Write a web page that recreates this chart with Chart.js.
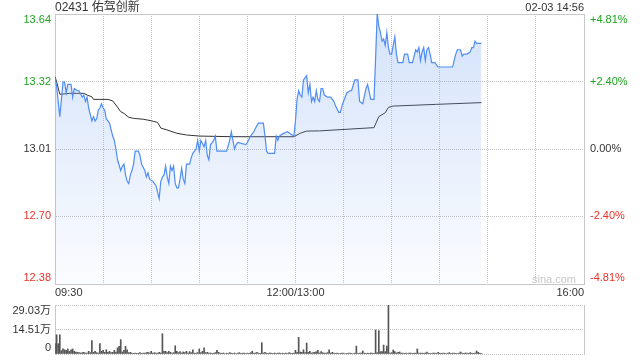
<!DOCTYPE html>
<html>
<head>
<meta charset="utf-8">
<script src="https://cdn.jsdelivr.net/npm/chart.js@4"></script>
<style>
  body { margin: 0; background: #fff; overflow: hidden; }
  #wrap { position: relative; width: 640px; height: 360px; font-family: "Liberation Sans", Arial, "Noto Sans CJK SC", sans-serif; color: #333; }
  canvas { position: absolute; left: 0; }
  #priceChart { top: 0; }
  #volChart { top: 300px; }
  .txt { position: absolute; white-space: nowrap; }
  #title { left: 55px; top: 0; font-size: 12px; line-height: 14px; }
  #stamp { right: 56px; top: 0; font-size: 11px; line-height: 14px; }
  #mark { left: 532px; top: 272px; font-size: 11px; line-height: 14px; color: #c8c8c8; }
</style>
</head>
<body>
<div id="wrap">
  <canvas id="priceChart" width="640" height="300"></canvas>
  <canvas id="volChart" width="640" height="60"></canvas>
  <div class="txt" id="title">02431 佑驾创新</div>
  <div class="txt" id="stamp">02-03 14:56</div>
  <div class="txt" id="mark">sina.com</div>
</div>
<script>
const FONT = '"Liberation Sans", Arial, "Noto Sans CJK SC", sans-serif';
const UP = '#1fa31f';
const DOWN = '#e9332a';
const GRID = '#c4c4c4';
const FRAME = '#c8c8c8';

const prevClose = 13.01;
const pctSteps = [4.81, 2.40, 0, -2.40, -4.81];
const priceLabels = ['13.64', '13.32', '13.01', '12.70', '12.38'];
const pctLabels = ['+4.81%', '+2.40%', '0.00%', '-2.40%', '-4.81%'];

// minutes since 09:30 (lunch break removed, 12:00/13:00 = 150, 16:00 = 330)
const sessionMinutes = 330;
const gridMinutes = [0, 30, 60, 90, 120, 150, 180, 210, 240, 270, 300, 330];
const timeLabels = ['09:30', '12:00/13:00', '16:00'];
const timeLabelMinutes = [0, 150, 330];

const lineMinutes = [
  0, 1, 3, 5, 6, 7, 8, 10, 11, 12,
  14, 15, 17, 18, 19, 20, 21, 23, 24, 25,
  26, 27, 28, 29, 30, 31, 32, 34, 35, 36,
  37, 38, 39, 41, 42, 43, 44, 45, 46, 47,
  48, 49, 50, 52, 53, 54, 56, 57, 58, 59,
  61, 63, 64, 65, 66, 67, 68, 69, 70, 71,
  72, 73, 74, 75, 76, 77, 78, 79, 80, 81,
  82, 84, 85, 86, 87, 88, 89, 90, 91, 93,
  94, 95, 96, 97, 98, 99, 100, 101, 107, 109,
  110, 111, 112, 113, 114, 119, 120, 122, 124, 126,
  127, 130, 131, 132, 133, 137, 138, 139, 140, 142,
  145, 147, 149, 150, 151, 152, 153, 154, 155, 156,
  157, 158, 159, 160, 161, 162, 163, 164, 165, 166,
  167, 168, 170, 172, 174, 175, 177, 178, 179, 180,
  181, 182, 184, 185, 187, 189, 190, 192, 194, 195,
  197, 199, 200, 201, 202, 203, 204, 205, 206, 207,
  208, 209, 210, 211, 212, 213, 214, 215, 217, 218,
  220, 221, 223, 225, 226, 227, 228, 229, 230, 231,
  232, 233, 234, 235, 237, 238, 239, 241, 248, 250,
  251, 253, 254, 255, 257, 259, 260, 261, 262, 263,
  266
];
const linePrices = [
  13.34, 13.30, 13.16, 13.32, 13.32, 13.27, 13.31, 13.31, 13.25, 13.29,
  13.28, 13.28, 13.25, 13.26, 13.23, 13.25, 13.20, 13.14, 13.16, 13.14,
  13.15, 13.19, 13.20, 13.22, 13.20, 13.19, 13.15, 13.13, 13.10, 13.07,
  13.05, 13.01, 12.96, 12.91, 12.93, 12.94, 12.89, 12.86, 12.85, 12.89,
  12.91, 12.94, 13.00, 13.00, 12.98, 12.94, 12.91, 12.88, 12.90, 12.87,
  12.86, 12.84, 12.81, 12.78, 12.86, 12.88, 12.89, 12.93, 12.88, 12.85,
  12.93, 12.91, 12.93, 12.85, 12.83, 12.83, 12.87, 12.92, 12.87, 12.85,
  12.94, 12.94, 12.97, 12.99, 13.00, 13.01, 13.05, 13.00, 13.05, 13.02,
  13.05, 12.98, 12.96, 13.03, 13.04, 13.05, 13.07, 13.00, 13.00, 13.05,
  13.09, 13.05, 13.01, 13.03, 13.04, 13.03, 13.04, 13.07, 13.09, 13.12,
  13.13, 13.13, 13.07, 13.00, 12.99, 12.99, 13.07, 13.05, 13.07, 13.08,
  13.09, 13.08, 13.07, 13.14, 13.24, 13.28, 13.26, 13.25, 13.33, 13.34,
  13.35, 13.27, 13.31, 13.23, 13.25, 13.23, 13.28, 13.24, 13.23, 13.29,
  13.29, 13.26, 13.25, 13.25, 13.23, 13.21, 13.18, 13.18, 13.21, 13.23,
  13.25, 13.27, 13.28, 13.28, 13.33, 13.33, 13.23, 13.22, 13.29, 13.31,
  13.24, 13.24, 13.43, 13.64, 13.58, 13.55, 13.51, 13.52, 13.49, 13.55,
  13.48, 13.45, 13.45, 13.49, 13.53, 13.45, 13.41, 13.41, 13.41, 13.45,
  13.45, 13.41, 13.41, 13.47, 13.46, 13.48, 13.42, 13.46, 13.48, 13.42,
  13.47, 13.48, 13.45, 13.41, 13.41, 13.40, 13.39, 13.39, 13.39, 13.45,
  13.47, 13.47, 13.44, 13.45, 13.45, 13.46, 13.48, 13.48, 13.51, 13.50,
  13.50
];

const avgMinutes = [0, 1, 3, 4, 9, 18, 20, 23, 24, 28, 33, 36, 38, 41, 43, 46, 49, 55, 60, 64,
  66, 70, 76, 82, 90, 111, 149, 153, 157, 165, 199, 202, 206, 208, 211, 238, 266];
const avgPrices = [13.345, 13.322, 13.264, 13.264, 13.268, 13.268, 13.260, 13.252, 13.240, 13.240,
  13.240, 13.233, 13.214, 13.183, 13.175, 13.157, 13.152, 13.148, 13.141, 13.133,
  13.107, 13.098, 13.083, 13.075, 13.070, 13.067, 13.067, 13.083, 13.093, 13.094,
  13.109, 13.160, 13.178, 13.203, 13.209, 13.217, 13.225];

// volume per minute, in 万 shares
const volumes = [
  6.1, 11.4, 6.1, 11.4, 2.0, 3.0, 2.5, 2.2, 3.0, 1.6,
  2.5, 3.0, 1.6, 1.2, 1.0, 0.8, 0.6, 0.8, 1.0, 0.6,
  0.6, 1.6, 0.8, 7.9, 1.0, 1.6, 0.8, 0.6, 6.1, 1.6,
  2.2, 1.0, 2.5, 1.0, 1.6, 0.8, 1.0, 2.2, 1.2, 3.6,
  4.5, 8.5, 1.2, 2.2, 4.5, 2.5, 0.8, 1.0, 0.5, 0.4,
  0.6, 0.4, 0.5, 0.8, 0.4, 0.6, 0.5, 0.8, 1.0, 0.6,
  1.6, 0.5, 0.8, 0.6, 0.5, 1.0, 0.6, 12.0, 1.6, 1.6,
  0.8, 1.6, 1.0, 0.6, 0.8, 4.9, 1.6, 0.8, 1.4, 0.6,
  1.2, 0.8, 1.6, 0.6, 1.4, 0.8, 2.5, 0.5, 0.6, 0.8,
  3.0, 0.8, 1.6, 3.6, 0.8, 1.0, 0.5, 0.6, 0.4, 0.5,
  0.8, 2.2, 1.0, 0.5, 0.4, 0.6, 0.3, 0.5, 0.4, 0.8,
  0.5, 0.4, 0.6, 0.3, 0.5, 0.8, 0.4, 0.5, 0.6, 0.3,
  0.5, 0.4, 0.8, 1.6, 0.5, 0.6, 1.0, 0.5, 0.4, 6.7,
  0.6, 1.0, 0.5, 0.4, 0.6, 0.5, 0.4, 0.6, 0.3, 0.5,
  0.6, 0.4, 0.5, 0.3, 0.6, 0.4, 0.8, 0.5, 0.4, 0.6,
  2.2, 1.0, 9.9, 1.2, 1.0, 2.5, 0.8, 6.5, 1.0, 1.6,
  0.6, 0.8, 1.0, 1.4, 2.2, 0.6, 1.4, 0.8, 0.5, 0.6,
  0.8, 2.4, 0.6, 1.0, 0.5, 0.4, 0.5, 0.3, 0.4, 0.6,
  0.5, 0.3, 0.4, 0.5, 0.6, 0.4, 0.3, 0.5, 4.7, 0.4,
  0.5, 0.6, 1.8, 0.5, 0.4, 0.5, 0.4, 0.6, 0.5, 0.4,
  14.2, 0.8, 13.8, 1.4, 1.4, 5.3, 1.4, 4.7, 29.0, 0.5,
  0.8, 2.4, 1.4, 0.6, 1.0, 1.2, 0.5, 0.6, 0.4, 0.5,
  0.3, 0.6, 0.5, 0.4, 0.6, 0.5, 3.0, 0.6, 0.5, 0.5,
  0.4, 0.6, 1.2, 0.5, 0.4, 0.3, 0.6, 0.5, 0.4, 1.0,
  0.5, 0.4, 0.6, 0.5, 0.3, 0.5, 0.8, 0.4, 0.5, 0.6,
  0.4, 0.3, 0.5, 1.2, 0.5, 0.4, 0.6, 0.5, 0.4, 0.8,
  0.5, 0.4, 0.6, 1.8, 1.0, 0.5, 0.4
];
const volTicks = [0, 14.515, 29.03];
const volLabels = ['0', '14.51万', '29.03万'];

const priceMin = prevClose * (1 + pctSteps[4] / 100);
const priceMax = prevClose * (1 + pctSteps[0] / 100);

const fixedWidth = w => scale => { scale.width = w; };
const fixedHeight = h => scale => { scale.height = h; };

// labels beside the axes, kept inside the plot's height like the original
const priceAxisLabels = {
  id: 'priceAxisLabels',
  afterDraw(chart) {
    const {ctx, chartArea, scales} = chart;
    ctx.save();
    ctx.font = '11px ' + FONT;
    ctx.textBaseline = 'middle';
    pctSteps.forEach((p, i) => {
      let py = scales.y.getPixelForValue(prevClose * (1 + p / 100));
      py = Math.min(Math.max(py, chartArea.top + 6), chartArea.bottom - 6);
      ctx.fillStyle = p > 0 ? UP : p < 0 ? DOWN : '#333';
      ctx.textAlign = 'right';
      ctx.fillText(priceLabels[i], chartArea.left - 4, py);
      ctx.textAlign = 'left';
      ctx.fillText(pctLabels[i], chartArea.right + 6, py);
    });
    ctx.fillStyle = '#333';
    timeLabels.forEach((t, i) => {
      ctx.textAlign = i === 0 ? 'left' : i === timeLabels.length - 1 ? 'right' : 'center';
      ctx.fillText(t, scales.x.getPixelForValue(timeLabelMinutes[i]), chartArea.bottom + 9);
    });
    ctx.restore();
  }
};

const volAxisLabels = {
  id: 'volAxisLabels',
  afterDraw(chart) {
    const {ctx, chartArea, scales} = chart;
    ctx.save();
    ctx.font = '11px ' + FONT;
    ctx.textBaseline = 'middle';
    ctx.textAlign = 'right';
    ctx.fillStyle = '#333';
    volTicks.forEach((v, i) => {
      let py = scales.y.getPixelForValue(v);
      py = Math.min(Math.max(py, chartArea.top + 6), chartArea.bottom - 6);
      ctx.fillText(volLabels[i], chartArea.left - 4, py);
    });
    ctx.restore();
  }
};

const areaFill = context => {
  const {ctx, chartArea} = context.chart;
  if (!chartArea) return 'rgba(120,165,240,0.2)';
  const g = ctx.createLinearGradient(0, chartArea.top, 0, chartArea.bottom);
  g.addColorStop(0, 'rgba(120,165,240,0.32)');
  g.addColorStop(1, 'rgba(120,165,240,0.03)');
  return g;
};

new Chart(document.getElementById('priceChart'), {
  type: 'line',
  data: {
    datasets: [
      {
        data: lineMinutes.map((m, i) => ({x: m, y: linePrices[i]})),
        borderColor: '#4f8df3',
        borderWidth: 1.2,
        pointRadius: 0,
        tension: 0,
        fill: 'start',
        backgroundColor: areaFill
      },
      {
        data: avgMinutes.map((m, i) => ({x: m, y: avgPrices[i]})),
        borderColor: '#333',
        borderWidth: 1,
        pointRadius: 0,
        tension: 0,
        fill: false
      }
    ]
  },
  options: {
    responsive: false,
    animation: false,
    events: [],
    plugins: {legend: {display: false}, tooltip: {enabled: false}},
    scales: {
      x: {
        type: 'linear', min: 0, max: sessionMinutes, position: 'bottom',
        afterBuildTicks: s => { s.ticks = gridMinutes.map(v => ({value: v})); },
        ticks: {display: false},
        grid: {color: GRID, drawTicks: false},
        border: {color: FRAME, dash: [1, 1]},
        afterFit: fixedHeight(16)
      },
      xTop: {
        type: 'linear', min: 0, max: sessionMinutes, position: 'top',
        ticks: {display: false},
        grid: {display: false},
        border: {color: FRAME},
        afterFit: fixedHeight(14)
      },
      y: {
        min: priceMin, max: priceMax, position: 'left',
        afterBuildTicks: s => { s.ticks = pctSteps.map(p => ({value: prevClose * (1 + p / 100)})); },
        ticks: {display: false},
        grid: {color: GRID, drawTicks: false},
        border: {color: FRAME, dash: [1, 1]},
        afterFit: fixedWidth(55)
      },
      yR: {
        min: priceMin, max: priceMax, position: 'right',
        ticks: {display: false},
        grid: {display: false},
        border: {color: FRAME},
        afterFit: fixedWidth(56)
      }
    }
  },
  plugins: [priceAxisLabels]
});

new Chart(document.getElementById('volChart'), {
  type: 'bar',
  data: {
    datasets: [{
      data: volumes.map((v, i) => ({x: i, y: v})),
      backgroundColor: '#555',
      barThickness: 1
    }]
  },
  options: {
    responsive: false,
    animation: false,
    events: [],
    plugins: {legend: {display: false}, tooltip: {enabled: false}},
    scales: {
      x: {
        type: 'linear', min: 0, max: sessionMinutes, offset: false,
        ticks: {display: false},
        grid: {display: false, offset: false},
        border: {display: false},
        afterFit: fixedHeight(6)
      },
      xTop: {
        type: 'linear', min: 0, max: sessionMinutes, position: 'top',
        ticks: {display: false},
        grid: {display: false},
        border: {display: false},
        afterFit: fixedHeight(5)
      },
      y: {
        min: 0, max: volTicks[2], position: 'left',
        afterBuildTicks: s => { s.ticks = volTicks.map(v => ({value: v})); },
        ticks: {display: false},
        grid: {color: GRID, drawTicks: false},
        border: {color: FRAME, dash: [1, 1]},
        afterFit: fixedWidth(55)
      },
      yR: {
        min: 0, max: volTicks[2], position: 'right',
        ticks: {display: false},
        grid: {display: false},
        border: {color: FRAME},
        afterFit: fixedWidth(56)
      }
    }
  },
  plugins: [volAxisLabels]
});
</script>
</body>
</html>
